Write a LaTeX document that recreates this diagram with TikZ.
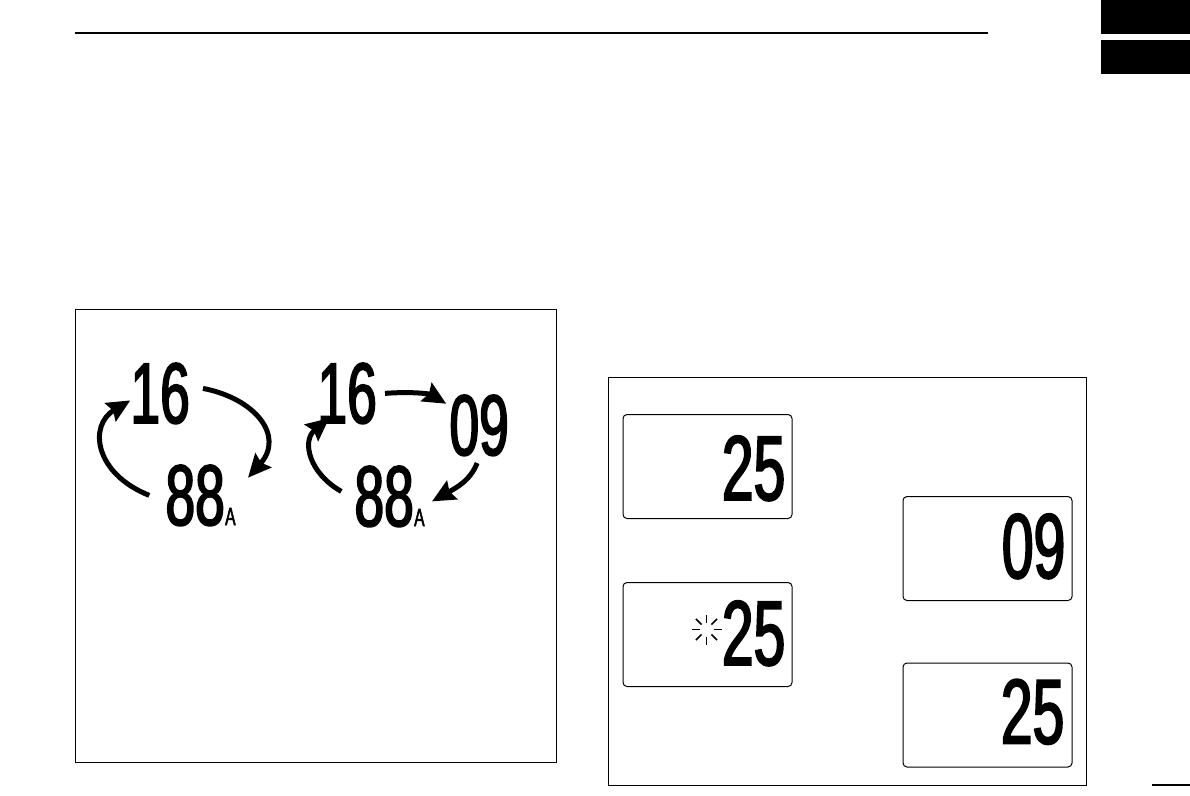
\documentclass[tikz,border=0pt]{standalone}
\usepackage{fontspec}
\newfontfamily\lcdfont[FakeStretch=0.62,FakeBold=2]{Liberation Sans}
\usetikzlibrary{arrows.meta}

\begin{document}
\begin{tikzpicture}[x=1pt,y=-1pt,
    bigDigits/.style={inner sep=0pt,anchor=base east,font=\lcdfont\fontsize{86}{86}\selectfont},
    lcdDigits/.style={inner sep=0pt,anchor=base east,font=\lcdfont\fontsize{92}{92}\selectfont},
    subA/.style={inner sep=0pt,anchor=base west,font=\lcdfont\fontsize{25}{25}\selectfont},
    lcdBox/.style={draw,rounded corners=4pt,line width=1pt,minimum width=169pt,minimum height=104pt,inner sep=0pt},
    chanArrow/.style={line width=5pt,-{Stealth[length=23pt,width=21pt,inset=3pt]}}]
    \useasboundingbox (0,0) rectangle (1190,795);
    \draw[line width=2pt] (75,33) -- (988,33);
    \fill (1101,0) rectangle (1190,34);
    \fill (1101,40) rectangle (1190,74);
    \draw[line width=1.5pt] (1152,785) -- (1190,785);

    \draw[line width=1pt] (75,309) rectangle (556,762);
    \node[bigDigits] (l16) at (190,423) {16};
    \node[bigDigits] (l88) at (225,525) {88};
    \node[subA] (l88a) at (l88.base east) {A};
    \draw[chanArrow] ([shift={(-16,0)}]l88.west) .. controls +(-55,-22) and +(-42,25) .. ([shift={(0,7)}]l16.west);
    \draw[chanArrow] ([shift={(13,-5)}]l16.east) .. controls +(52,10) and +(37,-42) .. ([shift={(23,13)}]l88.north east);

    \node[bigDigits] (r16) at (377,423) {16};
    \node[bigDigits] (r09) at (509,455) {09};
    \node[bigDigits] (r88) at (414,526) {88};
    \node[subA] (r88a) at (r88.base east) {A};
    \draw[chanArrow] ([shift={(8,0)}]r16.east) .. controls +(25,-2) and +(-17,-10) .. ([shift={(-3,9)}]r09.north west);
    \draw[chanArrow] ([shift={(-2,7)}]r09.south) .. controls +(-7,18) and +(23,-13) .. ([shift={(18,5)}]r88.east);
    \draw[chanArrow] ([shift={(-13,-5)}]r88.west) .. controls +(-32,-18) and +(-28,23) .. ([shift={(12,-6)}]r16.south west);

    \draw[line width=1pt] (608,377) rectangle (1086,785);
    \node[lcdBox] (d1) at (707.5,466.5) {};
    \node[lcdBox] (d2) at (987.5,548.5) {};
    \node[lcdBox] (d3) at (707.5,634.5) {};
    \node[lcdBox] (d4) at (987.5,715) {};
    \node[lcdDigits] (d1num) at ([shift={(-7,-19)}]d1.south east) {25};
    \node[lcdDigits] (d2num) at ([shift={(-7,-23)}]d2.south east) {09};
    \node[lcdDigits] (d3num) at ([shift={(-7,-22)}]d3.south east) {25};
    \node[lcdDigits] (d4num) at ([shift={(-8,-24)}]d4.south east) {25};
    \coordinate (spark) at ([shift={(-1,-5)}]d3.center);
    \foreach \a in {0,45,...,315}
        \draw[line width=1.5pt] ([shift={(\a:7)}]spark) -- ([shift={(\a:15)}]spark);
\end{tikzpicture}
\end{document}
